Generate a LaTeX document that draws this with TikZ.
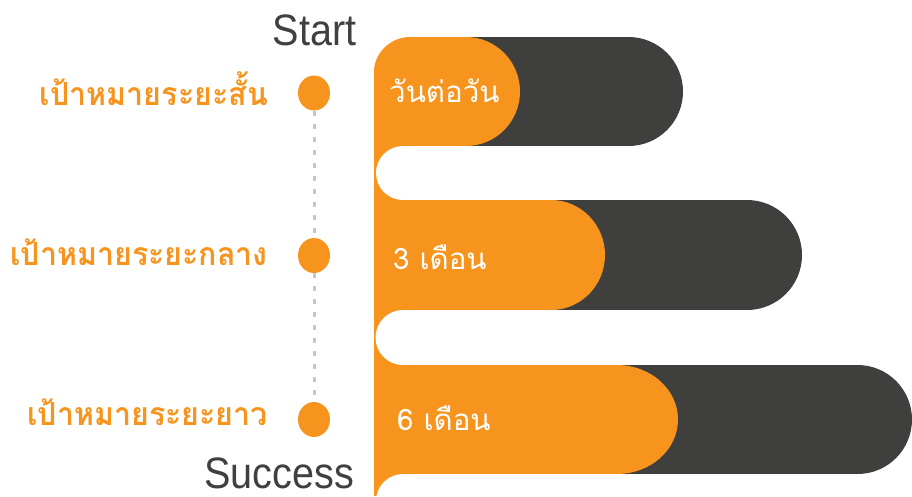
\documentclass[tikz,border=0pt]{standalone}
\usepackage{fontspec}
\usetikzlibrary{shapes.geometric}
\newfontfamily\thaifont[Script=Thai]{Loma}
\newfontfamily\latinfont{Liberation Sans}
\definecolor{orng}{HTML}{F7941E}
\definecolor{darkbar}{HTML}{3F3F3D}
\definecolor{dashgray}{HTML}{C8C8C0}
\definecolor{titlegray}{HTML}{404040}
\tikzset{
  goallabel/.style={anchor=base east, inner sep=0, text=orng, font=\thaifont\bfseries\fontsize{32}{32}\selectfont, xscale=0.95},
  bartext/.style={anchor=base west, inner sep=0, text=white, font=\thaifont\fontsize{29.5}{30}\selectfont},
  endlabel/.style={anchor=base, inner sep=0, text=titlegray, font=\latinfont\fontsize{44}{44}\selectfont, xscale=0.9},
  dot/.style={ellipse, fill=orng, minimum width=32pt, minimum height=35pt, inner sep=0},
  dashline/.style={dashgray, line width=3pt, dash pattern=on 5pt off 8pt}
}
\begin{document}
\begin{tikzpicture}[x=1pt,y=-1pt]
\useasboundingbox (0,0) rectangle (912,496);
% dark bars
\fill[darkbar, rounded corners=54.5pt] (375,37) rectangle (683,146);
\fill[darkbar, rounded corners=55pt] (375,200) rectangle (802,310);
\fill[darkbar, rounded corners=54.5pt] (375,365) rectangle (912,474);
% orange strip
\fill[orng] (374,72) rectangle (430,496);
% orange pills
\fill[orng] (374,72) .. controls (374,52.7) and (390.7,37) .. (410,37) -- (466,37) -- (466,146) -- (374,146) -- cycle;
\fill[orng] (466,91.5) ellipse [x radius=54, y radius=54.5];
\fill[orng] (374,200) rectangle (551,310);
\fill[orng] (551,255) ellipse [x radius=54, y radius=55];
\fill[orng] (374,365) rectangle (617,474);
\fill[orng] (617,419.5) ellipse [x radius=61, y radius=54.5];
% white notches
\fill[white] (403,146) rectangle (913,200);
\fill[white] (403,173) circle [radius=27];
\fill[white] (403,310) rectangle (913,365);
\fill[white] (403,337.5) circle [radius=27.5];
\fill[white] (403,474) rectangle (913,497);
\fill[white] (403,501) circle [radius=27];
% bar texts
\node[bartext] (t1) at (389,102) {วันต่อวัน};
\node[bartext] (t2) at (393,269) {3 เดือน};
\node[bartext] (t3) at (397,430) {6 เดือน};
% dots and dashed line
\node[dot] (d1) at (314,93) {};
\node[dot] (d2) at (314,255.5) {};
\node[dot] (d3) at (314,419.5) {};
\draw[dashline] (d1) -- (d2);
\draw[dashline] (d2) -- (d3);
% goal labels
\node[goallabel] (g1) at (268,105) {เป้าหมายระยะสั้น};
\node[goallabel] (g2) at (268,265) {เป้าหมายระยะกลาง};
\node[goallabel] (g3) at (268,425) {เป้าหมายระยะยาว};
% start / success
\node[endlabel] (start) at (314.5,45) {Start};
\node[endlabel] (success) at (279,488) {Success};
\end{tikzpicture}
\end{document}
